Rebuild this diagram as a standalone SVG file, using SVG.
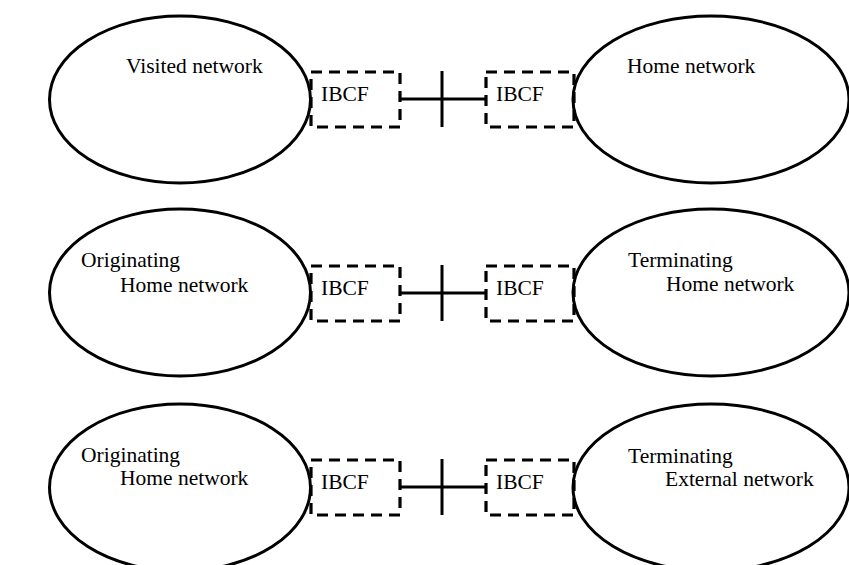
<svg xmlns="http://www.w3.org/2000/svg" width="849" height="565" viewBox="0 0 849 565">
<style>
.net{fill:none;stroke:#000;stroke-width:3}
.box{fill:#fff;stroke:#000;stroke-width:3.2;stroke-dasharray:11,7}
.ln{stroke:#000;stroke-width:3;fill:none}
text{font-family:"Liberation Serif","Times New Roman",serif;font-size:21.5px;fill:#000}
</style>
<rect width="849" height="565" fill="#fff"/>
<g id="connectors">
<line class="ln" x1="400" y1="99" x2="486" y2="99"/>
<line class="ln" x1="442" y1="71" x2="442" y2="127"/>
<line class="ln" x1="400" y1="293" x2="486" y2="293"/>
<line class="ln" x1="442" y1="265" x2="442" y2="321"/>
<line class="ln" x1="400" y1="487" x2="486" y2="487"/>
<line class="ln" x1="442" y1="459" x2="442" y2="515"/>
</g>
<g id="ibcf1l">
<rect class="box" x="311" y="72" width="89" height="55"/>
<text x="321" y="101">IBCF</text>
</g>
<g id="ibcf1r">
<rect class="box" x="486" y="72" width="88" height="55"/>
<text x="496" y="101">IBCF</text>
</g>
<g id="ibcf2l">
<rect class="box" x="311" y="266" width="89" height="55"/>
<text x="321" y="295">IBCF</text>
</g>
<g id="ibcf2r">
<rect class="box" x="486" y="266" width="88" height="55"/>
<text x="496" y="295">IBCF</text>
</g>
<g id="ibcf3l">
<rect class="box" x="311" y="460" width="89" height="55"/>
<text x="321" y="489">IBCF</text>
</g>
<g id="ibcf3r">
<rect class="box" x="486" y="460" width="88" height="55"/>
<text x="496" y="489">IBCF</text>
</g>
<g id="visited">
<ellipse class="net" cx="180" cy="99.5" rx="130.5" ry="83.5"/>
<text x="126" y="73">Visited network</text>
</g>
<g id="home1">
<ellipse class="net" cx="711" cy="99.5" rx="138" ry="83.5"/>
<text x="627" y="73">Home network</text>
</g>
<g id="orig2">
<ellipse class="net" cx="180" cy="292.5" rx="130.5" ry="83.5"/>
<text x="81" y="267">Originating</text>
<text x="120" y="292">Home network</text>
</g>
<g id="term2">
<ellipse class="net" cx="711" cy="292.5" rx="138" ry="83.5"/>
<text x="628" y="267">Terminating</text>
<text x="666" y="291">Home network</text>
</g>
<g id="orig3">
<ellipse class="net" cx="180" cy="487.5" rx="130.5" ry="83.5"/>
<text x="81" y="462">Originating</text>
<text x="120" y="485">Home network</text>
</g>
<g id="term3">
<ellipse class="net" cx="711" cy="487.5" rx="138" ry="83.5"/>
<text x="628" y="463">Terminating</text>
<text x="665" y="486">External network</text>
</g>
</svg>
